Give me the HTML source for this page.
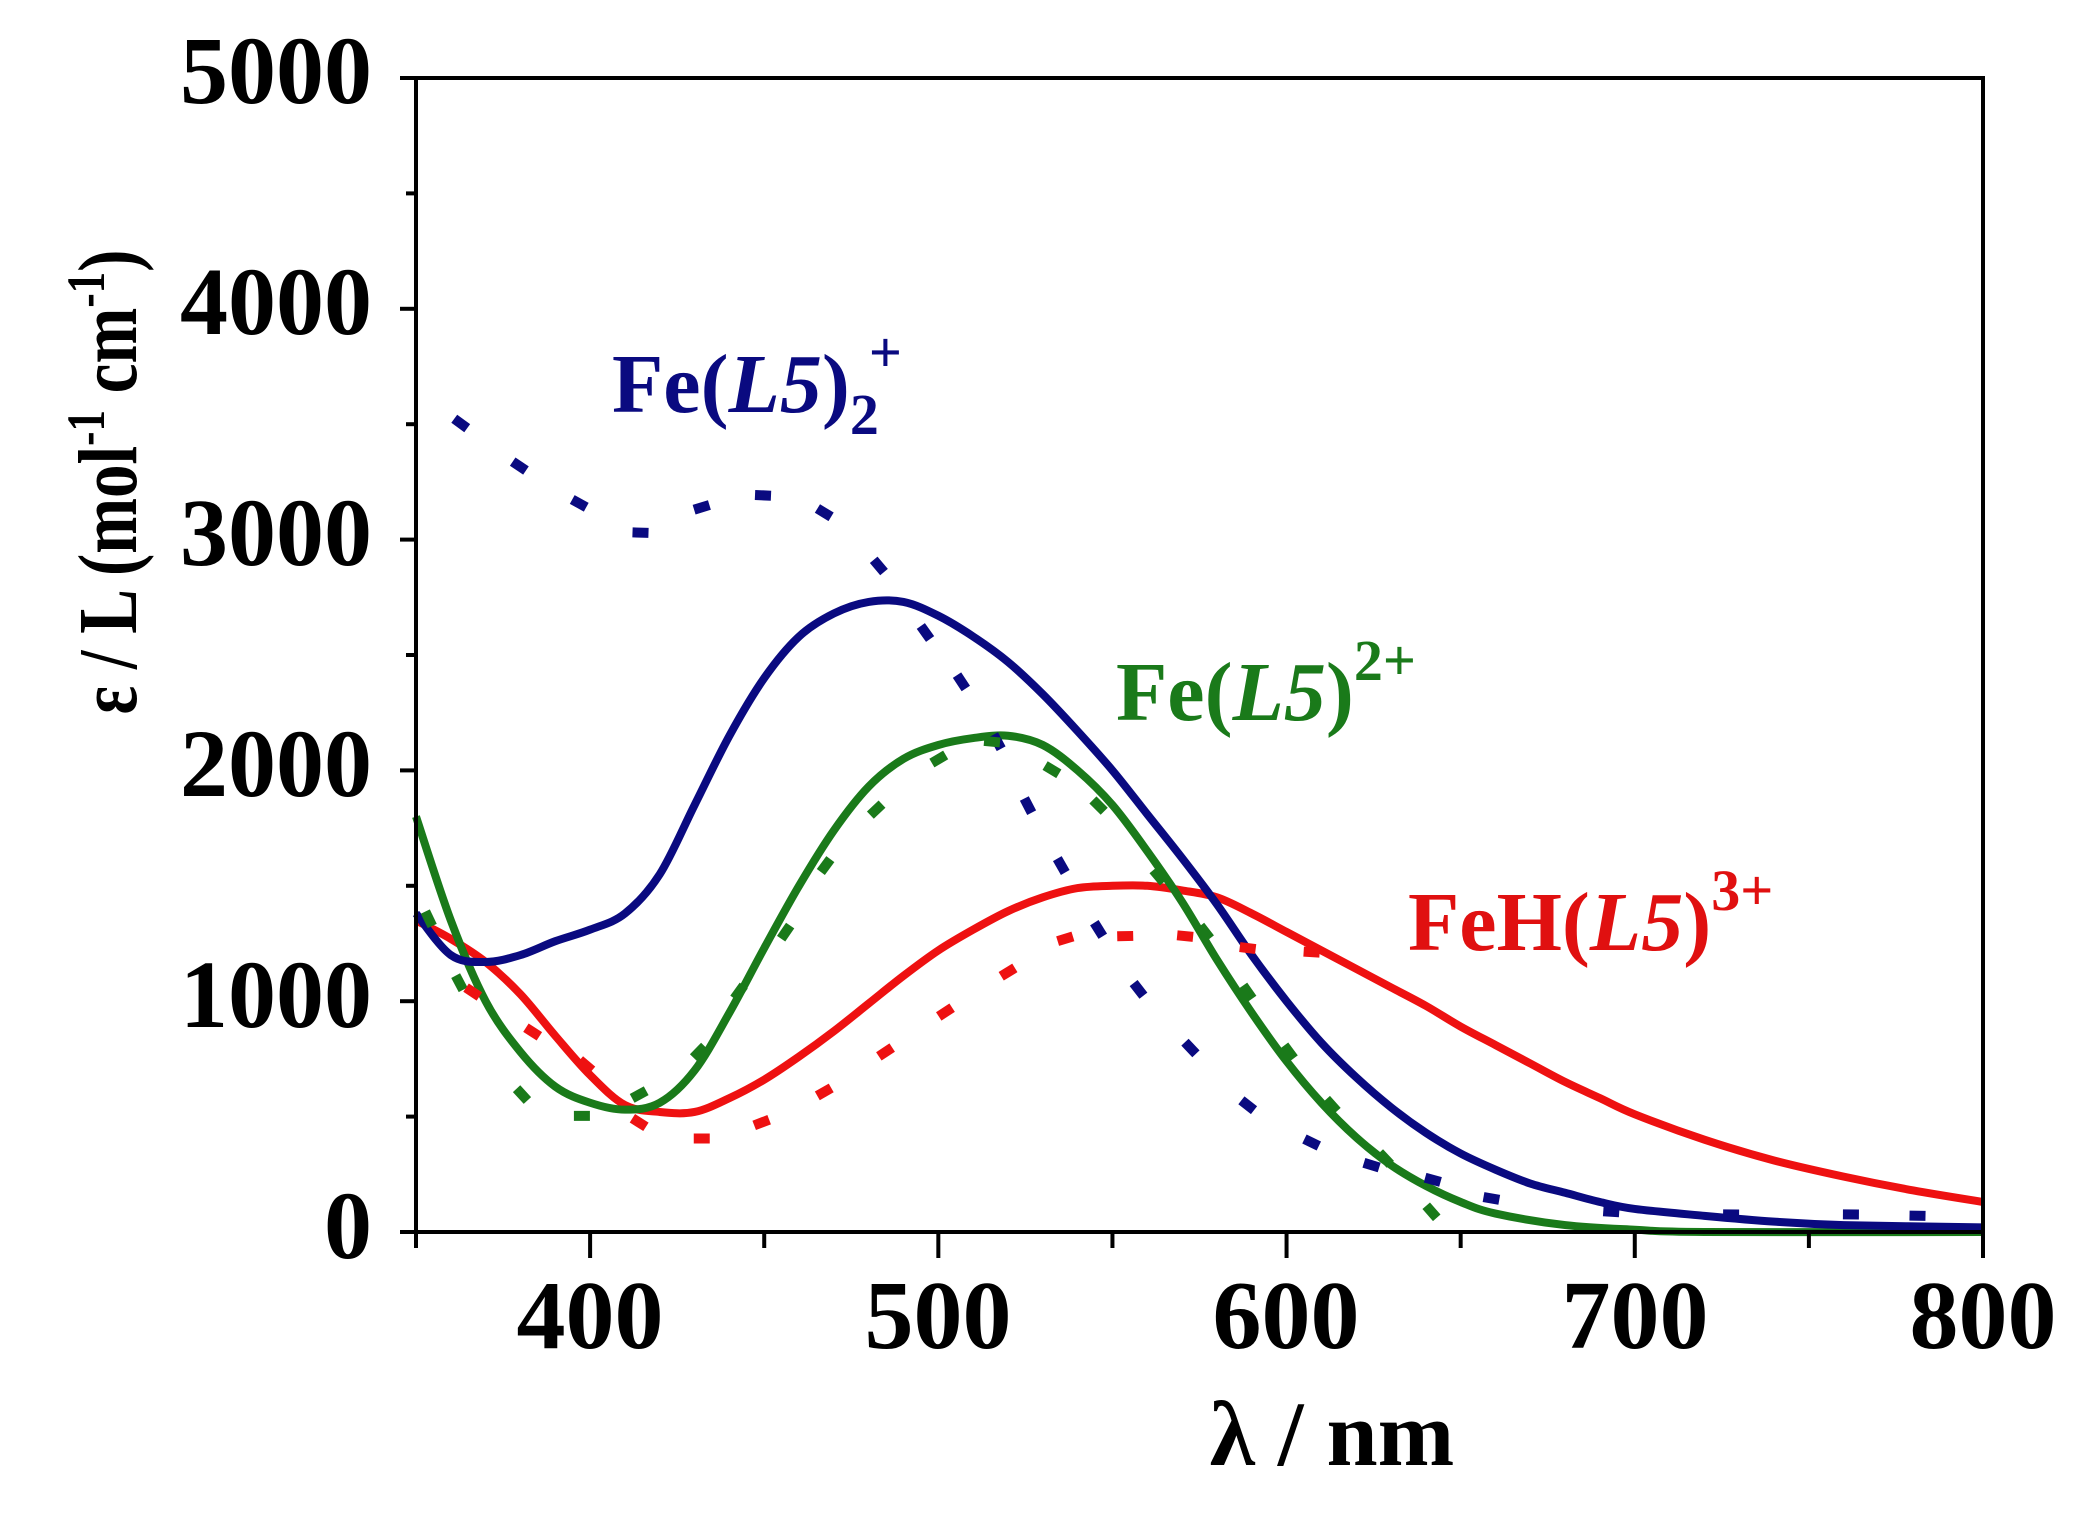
<!DOCTYPE html>
<html><head><meta charset="utf-8"><style>
html,body{margin:0;padding:0;background:#fff;}
svg{display:block;}
text{font-family:"Liberation Serif",serif;font-weight:bold;}
</style></head><body>
<svg id="s" width="2088" height="1519" viewBox="0 0 2088 1519" xmlns="http://www.w3.org/2000/svg">
<rect width="2088" height="1519" fill="#fff"/>
<g id="plot"></g>
<rect x="416" y="78" width="1567" height="1154" fill="none" stroke="#000" stroke-width="4"/>
<g id="ticks" stroke="#000" stroke-width="4"></g>
<g font-size="96" fill="#000" text-anchor="end">
<text x="372" y="103">5000</text>
<text x="372" y="334">4000</text>
<text x="372" y="565">3000</text>
<text x="372" y="796">2000</text>
<text x="372" y="1027">1000</text>
<text x="372" y="1258">0</text>
</g>
<g font-size="98" fill="#000" text-anchor="middle">
<text x="590" y="1348">400</text>
<text x="938" y="1348">500</text>
<text x="1286" y="1348">600</text>
<text x="1635" y="1348">700</text>
<text x="1983" y="1348">800</text>
</g>
<text x="1332" y="1465" font-size="92" text-anchor="middle" fill="#000">λ / nm</text>
<text transform="translate(136,482) rotate(-90)" font-size="84" text-anchor="middle" fill="#000" textLength="465" lengthAdjust="spacingAndGlyphs">ε / L (mol<tspan dy="-32" font-size="54">-1</tspan><tspan dy="32"> cm</tspan><tspan dy="-32" font-size="54">-1</tspan><tspan dy="32">)</tspan></text>
<text x="612" y="412" font-size="84" fill="#0a0a80">Fe(<tspan font-style="italic">L5</tspan>)<tspan dy="22" font-size="58">2</tspan><tspan dy="-62" dx="-10" font-size="58">+</tspan></text>
<text x="1116" y="720" font-size="84" fill="#1a7a1a">Fe(<tspan font-style="italic">L5</tspan>)<tspan dy="-40" font-size="58">2+</tspan></text>
<text x="1408" y="950" font-size="84" fill="#e01010">FeH(<tspan font-style="italic">L5</tspan>)<tspan dy="-40" font-size="58">3+</tspan></text>
</svg>
<script>
const X=nm=>416+(nm-350)*1567/450, Y=e=>1232-e*1154/5000;
const NS="http://www.w3.org/2000/svg";
const plot=document.getElementById('plot'), ticks=document.getElementById('ticks');
function el(t,a,p){const e=document.createElementNS(NS,t);for(const k in a)e.setAttribute(k,a[k]);p.appendChild(e);return e;}
for(let nm=350;nm<=800;nm+=50){el('line',{x1:X(nm),y1:1232,x2:X(nm),y2:nm%100==0?1258:1248},ticks);}
for(let v=0;v<=5000;v+=500){el('line',{x1:416,y1:Y(v),x2:v%1000==0?400:406,y2:Y(v)},ticks);}
function smooth(pts){let d='M'+pts[0][0]+' '+pts[0][1];for(let i=0;i<pts.length-1;i++){const p0=pts[i-1]||pts[i],p1=pts[i],p2=pts[i+1],p3=pts[i+2]||p2;
d+=` C${p1[0]+(p2[0]-p0[0])/6} ${p1[1]+(p2[1]-p0[1])/6} ${p2[0]-(p3[0]-p1[0])/6} ${p2[1]-(p3[1]-p1[1])/6} ${p2[0]} ${p2[1]}`;}return d;}
function line(data,col){const pts=data.map(([a,b])=>[X(a),Y(b)]);el('path',{d:smooth(pts),fill:'none',stroke:col,'stroke-width':8,'stroke-linejoin':'round'},plot);}
function dots(disp,col){const p=disp.map(([a,b])=>[a*1.3316,b*1.3316]);p.forEach((q,i)=>{const a=p[Math.max(0,i-1)],b=p[Math.min(p.length-1,i+1)];let dx=b[0]-a[0],dy=b[1]-a[1],L=Math.hypot(dx,dy)||1;dx*=8/L;dy*=8/L;
el('line',{x1:q[0]-dx,y1:q[1]-dy,x2:q[0]+dx,y2:q[1]+dy,stroke:col,'stroke-width':10},plot);});}
const blue=[[350,1380],[360,1200],[370,1170],[380,1200],[390,1260],[400,1310],[410,1380],[420,1550],[430,1850],[440,2150],[450,2400],[460,2580],[470,2680],[480,2730],[490,2730],[500,2670],[510,2580],[520,2470],[530,2330],[540,2170],[550,2000],[560,1810],[570,1620],[580,1420],[590,1200],[600,1000],[610,820],[620,670],[630,540],[640,430],[650,340],[660,270],[670,210],[680,170],[690,130],[700,100],[720,70],[740,45],[760,30],[800,20]];
const green=[[350,1800],[360,1350],[370,1000],[380,780],[390,630],[400,560],[410,530],[420,560],[430,700],[440,950],[450,1230],[460,1500],[470,1740],[480,1930],[490,2050],[500,2110],[510,2140],[520,2150],[530,2110],[540,2000],[550,1850],[560,1650],[570,1430],[580,1180],[590,950],[600,740],[610,560],[620,410],[630,290],[640,200],[650,130],[660,80],[680,30],[700,10],[720,0],[800,0]];
const red=[[350,1350],[360,1270],[370,1170],[380,1030],[390,850],[400,680],[410,550],[420,520],[430,520],[440,580],[450,660],[460,760],[470,870],[480,990],[490,1110],[500,1220],[510,1310],[520,1390],[530,1450],[540,1490],[550,1500],[560,1500],[570,1480],[580,1450],[590,1380],[600,1300],[610,1220],[620,1140],[630,1060],[640,980],[650,890],[660,810],[670,730],[680,650],[690,580],[700,510],[720,400],[740,310],[760,240],[780,180],[800,130]];
line(red,'#ee1111');line(green,'#1a7a1a');line(blue,'#0a0a80');
dots([[346,318],[390,350],[435,378],[481,400],[527,381],[573,372],[619,385],[660,425],[695,475],[722,512],[749,557],[772,605],[797,650],[825,698],[855,743],[894,787],[937,830],[985,858],[1030,875],[1076,886],[1120,900],[1210,910],[1300,912],[1390,912],[1440,913]],'#0a0a80');
dots([[322,690],[345,738],[392,822],[437,838],[480,822],[525,790],[555,745],[590,700],[620,650],[658,608],[705,570],[745,557],[790,578],[825,605],[870,658],[905,700],[937,745],[968,790],[1000,830],[1040,870],[1075,910]],'#1a7a1a');
dots([[355,745],[400,775],[440,800],[480,843],[527,855],[572,843],[619,820],[665,790],[710,760],[757,730],[800,705],[845,703],[890,703],[937,712],[985,715]],'#ee1111');
</script>
</body></html>
